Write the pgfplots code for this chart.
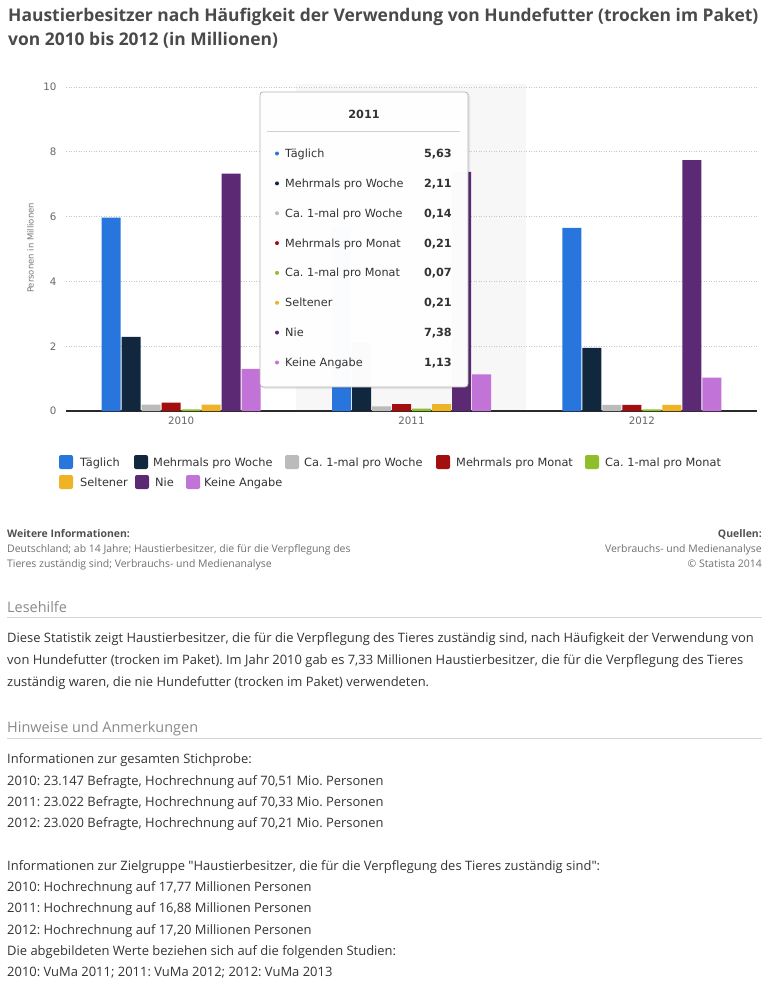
\documentclass[border=0pt]{standalone}
\usepackage{fontspec}
\setmainfont{Open Sans}
\newfontfamily\qfont[Ligatures=TeXOff]{Open Sans}
\newfontfamily\chartfont{DejaVu Sans}
\usepackage{pgfplots}
\usepackage{pgfplotstable}
\pgfplotsset{compat=1.18}

\definecolor{cT}{HTML}{2876DD}
\definecolor{cMW}{HTML}{10273E}
\definecolor{cW}{HTML}{BBBBBB}
\definecolor{cMM}{HTML}{A30E0E}
\definecolor{cM}{HTML}{8EBE2A}
\definecolor{cS}{HTML}{EFB326}
\definecolor{cN}{HTML}{5C2A74}
\definecolor{cK}{HTML}{C173D8}
\definecolor{titlec}{HTML}{4A4A4A}
\definecolor{bodyc}{HTML}{333333}
\definecolor{headc}{HTML}{8A8A8A}
\definecolor{infoc}{HTML}{707070}
\definecolor{infohc}{HTML}{505050}
\definecolor{rulec}{HTML}{D5D5D5}
\definecolor{tickc}{HTML}{666666}
\definecolor{ylabc}{HTML}{777777}
\definecolor{axisc}{HTML}{2A2A2A}
\definecolor{gridc}{HTML}{C8C8C8}
\definecolor{bandc}{HTML}{F7F7F7}
\definecolor{ttborder}{HTML}{B5B5B5}
\definecolor{ttsep}{HTML}{D0D0D0}
\definecolor{ttc}{HTML}{333333}

\pgfplotstableread{
x T MW W MM M S N K
0 5.97 2.29 0.20 0.26 0.05 0.20 7.33 1.30
1 5.63 2.11 0.14 0.21 0.07 0.21 7.38 1.13
2 5.65 1.95 0.19 0.19 0.05 0.19 7.74 1.03
}\datatable

\newcommand{\cf}[1]{\chartfont\fontsize{#1}{#1}\selectfont}
\newcommand{\of}[1]{\fontsize{#1}{#1}\selectfont}
\newcommand{\dq}{{\qfont"}}

\begin{document}
\frenchspacing
\begin{tikzpicture}
\path[use as bounding box] (0bp,0bp) rectangle (773bp,-992bp);
\fill[white] (0bp,0bp) rectangle (773bp,-992bp);
\fill[bandc] (296bp,-84bp) rectangle (526bp,-411bp);

\begin{axis}[
  at={(66bp,-411bp)}, anchor=south west,
  scale only axis, width=691bp, height=324bp,
  xmin=-0.5, xmax=2.5, ymin=0, ymax=10,
  ybar=1bp, bar width=19bp,
  axis x line*=bottom, axis y line*=left,
  y axis line style={draw=none},
  x axis line style={draw=axisc, line width=1.3bp},
  xtick={0,1,2}, xticklabels={2010,2011,2012},
  ytick={0,2,4,6,8,10},
  major tick length=0pt,
  ymajorgrids, grid style={gridc, line width=0.8bp, dash pattern=on 1bp off 1.5bp},
  tick label style={font=\cf{10.3}, text=tickc},
  yticklabel style={xshift=-6bp},
  xticklabel style={yshift=-2bp},
  /pgf/number format/assume math mode=true,
  clip=false,
]
\addplot[fill=cT, draw=none] table[x=x,y=T]{\datatable};
\addplot[fill=cMW, draw=none] table[x=x,y=MW]{\datatable};
\addplot[fill=cW, draw=none] table[x=x,y=W]{\datatable};
\addplot[fill=cMM, draw=none] table[x=x,y=MM]{\datatable};
\addplot[fill=cM, draw=none] table[x=x,y=M]{\datatable};
\addplot[fill=cS, draw=none] table[x=x,y=S]{\datatable};
\addplot[fill=cN, draw=none] table[x=x,y=N]{\datatable};
\addplot[fill=cK, draw=none] table[x=x,y=K]{\datatable};
\end{axis}

\begin{scope}[x=1bp,y=-1bp]
% y label
\node[rotate=90, font=\cf{8.5}, text=ylabc] at (30.5,248) {Personen in Millionen};

% tooltip
\fill[black, opacity=0.08, rounded corners=3bp] (261.5,93.5) rectangle (470,389);
\filldraw[fill=white, fill opacity=0.985, draw=ttborder, line width=0.8bp, rounded corners=3bp] (260,92) rectangle (468,387);
\node[font=\cf{11.3}\bfseries, text=ttc] at (364,114) {2011};
\draw[ttsep, line width=0.8bp] (267,131.5) -- (460,131.5);
\foreach \y/\c/\lab/\v in {153.5/cT/Täglich/{5,63}, 183.4/cMW/Mehrmals pro Woche/{2,11}, 213.2/cW/Ca. 1-mal pro Woche/{0,14}, 243.1/cMM/Mehrmals pro Monat/{0,21}, 272.9/cM/Ca. 1-mal pro Monat/{0,07}, 302.8/cS/Seltener/{0,21}, 332.6/cN/Nie/{7,38}, 362.5/cK/Keine Angabe/{1,13}} {
  \fill[\c] (277,\y) circle (2bp);
  \node[anchor=base west, inner sep=0pt, font=\cf{11.3}, text=ttc] at (285,\y+4) {\lab};
  \node[anchor=base east, inner sep=0pt, font=\cf{11.3}\bfseries, text=ttc] at (452,\y+4) {\v};
}

% legend
\foreach \sx/\tx/\yy/\c/\lab in {59/80/462/cT/Täglich, 134/153/462/cMW/Mehrmals pro Woche, 285/304/462/cW/Ca. 1-mal pro Woche, 436/456/462/cMM/Mehrmals pro Monat, 585/605/462/cM/Ca. 1-mal pro Monat, 59/80/482/cS/Seltener, 135/155/482/cN/Nie, 186/204/482/cK/Keine Angabe} {
  \fill[\c, rounded corners=2bp] (\sx,\yy-7) rectangle (\sx+14,\yy+7);
  \node[anchor=base west, inner sep=0pt, font=\cf{11.4}, text=bodyc] at (\tx,\yy+4) {\lab};
}

% title
\node[anchor=base west, inner sep=0pt, font=\of{17.5}\bfseries, text=titlec] at (8,21) {Haustierbesitzer nach Häufigkeit der Verwendung von Hundefutter (trocken im Paket)};
\node[anchor=base west, inner sep=0pt, font=\of{17.5}\bfseries, text=titlec] at (8,45) {von 2010 bis 2012 (in Millionen)};

% info block
\node[anchor=base west, inner sep=0pt, font=\of{10.5}\bfseries, text=infohc] at (7,537) {Weitere Informationen:};
\node[anchor=base west, inner sep=0pt, font=\of{10.5}, text=infoc] at (7,552) {Deutschland; ab 14 Jahre; Haustierbesitzer, die für die Verpflegung des};
\node[anchor=base west, inner sep=0pt, font=\of{10.5}, text=infoc] at (7,567) {Tieres zuständig sind; Verbrauchs- und Medienanalyse};
\node[anchor=base east, inner sep=0pt, font=\of{10.5}\bfseries, text=infohc] at (762,537) {Quellen:};
\node[anchor=base east, inner sep=0pt, font=\of{10.5}, text=infoc] at (762,552) {Verbrauchs- und Medienanalyse};
\node[anchor=base east, inner sep=0pt, font=\of{10.5}, text=infoc] at (762,567) {© Statista 2014};

% Lesehilfe
\node[anchor=base west, inner sep=0pt, font=\of{14.5}, text=headc] at (7,612) {Lesehilfe};
\draw[rulec, line width=1bp] (7,617.5) -- (762,617.5);
\node[anchor=base west, inner sep=0pt, font=\of{13}, text=bodyc] at (7,642) {Diese Statistik zeigt Haustierbesitzer, die für die Verpflegung des Tieres zuständig sind, nach Häufigkeit der Verwendung von};
\node[anchor=base west, inner sep=0pt, font=\of{13}, text=bodyc] at (7,664) {von Hundefutter (trocken im Paket). Im Jahr 2010 gab es 7,33 Millionen Haustierbesitzer, die für die Verpflegung des Tieres};
\node[anchor=base west, inner sep=0pt, font=\of{13}, text=bodyc] at (7,686) {zuständig waren, die nie Hundefutter (trocken im Paket) verwendeten.};

% Hinweise
\node[anchor=base west, inner sep=0pt, font=\of{14.5}, text=headc] at (7,732.5) {Hinweise und Anmerkungen};
\draw[rulec, line width=1bp] (7,738) -- (762,738);
\node[anchor=base west, inner sep=0pt, font=\of{13}, text=bodyc] at (7,763.5) {Informationen zur gesamten Stichprobe:};
\node[anchor=base west, inner sep=0pt, font=\of{13}, text=bodyc] at (7,785) {2010: 23.147 Befragte, Hochrechnung auf 70,51 Mio. Personen};
\node[anchor=base west, inner sep=0pt, font=\of{13}, text=bodyc] at (7,806.3) {2011: 23.022 Befragte, Hochrechnung auf 70,33 Mio. Personen};
\node[anchor=base west, inner sep=0pt, font=\of{13}, text=bodyc] at (7,827.6) {2012: 23.020 Befragte, Hochrechnung auf 70,21 Mio. Personen};
\node[anchor=base west, inner sep=0pt, font=\of{13}, text=bodyc] at (7,870.2) {Informationen zur Zielgruppe \dq Haustierbesitzer, die für die Verpflegung des Tieres zuständig sind\dq:};
\node[anchor=base west, inner sep=0pt, font=\of{13}, text=bodyc] at (7,891.5) {2010: Hochrechnung auf 17,77 Millionen Personen};
\node[anchor=base west, inner sep=0pt, font=\of{13}, text=bodyc] at (7,912.8) {2011: Hochrechnung auf 16,88 Millionen Personen};
\node[anchor=base west, inner sep=0pt, font=\of{13}, text=bodyc] at (7,934.1) {2012: Hochrechnung auf 17,20 Millionen Personen};
\node[anchor=base west, inner sep=0pt, font=\of{13}, text=bodyc] at (7,955.4) {Die abgebildeten Werte beziehen sich auf die folgenden Studien:};
\node[anchor=base west, inner sep=0pt, font=\of{13}, text=bodyc] at (7,976.7) {2010: VuMa 2011; 2011: VuMa 2012; 2012: VuMa 2013};
\end{scope}
\end{tikzpicture}
\end{document}
